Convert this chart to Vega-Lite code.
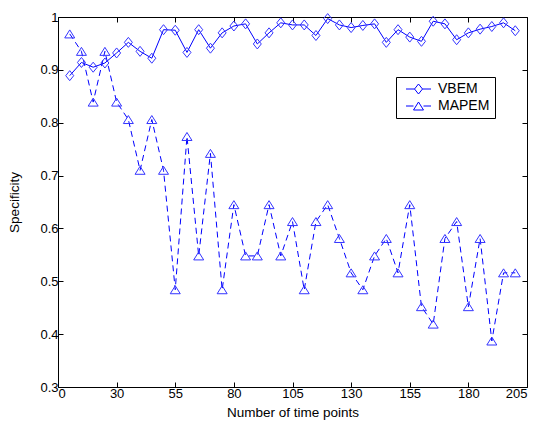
{
  "$schema": "https://vega.github.io/schema/vega-lite/v6.json",
  "autosize": "none",
  "width": 469,
  "height": 370,
  "padding": {"left": 58, "top": 17, "right": 12, "bottom": 37},
  "background": "white",
  "config": {
    "font": "Liberation Sans",
    "view": {"stroke": null},
    "axis": {
      "grid": false,
      "domainColor": "black",
      "domainWidth": 1,
      "tickColor": "black",
      "tickWidth": 1,
      "tickSize": -5,
      "labelColor": "black",
      "labelFont": "Liberation Sans",
      "labelFontSize": 13,
      "titleColor": "black",
      "titleFont": "Liberation Sans",
      "titleFontSize": 13.5,
      "titleFontWeight": "normal"
    }
  },
  "data": {
    "values": [
      {"x": 10, "series": "VBEM", "value": 0.889},
      {"x": 15, "series": "VBEM", "value": 0.914},
      {"x": 20, "series": "VBEM", "value": 0.905},
      {"x": 25, "series": "VBEM", "value": 0.913},
      {"x": 30, "series": "VBEM", "value": 0.932},
      {"x": 35, "series": "VBEM", "value": 0.952},
      {"x": 40, "series": "VBEM", "value": 0.935},
      {"x": 45, "series": "VBEM", "value": 0.922},
      {"x": 50, "series": "VBEM", "value": 0.976},
      {"x": 55, "series": "VBEM", "value": 0.975},
      {"x": 60, "series": "VBEM", "value": 0.933},
      {"x": 65, "series": "VBEM", "value": 0.976},
      {"x": 70, "series": "VBEM", "value": 0.941},
      {"x": 75, "series": "VBEM", "value": 0.970},
      {"x": 80, "series": "VBEM", "value": 0.983},
      {"x": 85, "series": "VBEM", "value": 0.987},
      {"x": 90, "series": "VBEM", "value": 0.949},
      {"x": 95, "series": "VBEM", "value": 0.970},
      {"x": 100, "series": "VBEM", "value": 0.989},
      {"x": 105, "series": "VBEM", "value": 0.985},
      {"x": 110, "series": "VBEM", "value": 0.985},
      {"x": 115, "series": "VBEM", "value": 0.965},
      {"x": 120, "series": "VBEM", "value": 0.997},
      {"x": 125, "series": "VBEM", "value": 0.985},
      {"x": 130, "series": "VBEM", "value": 0.980},
      {"x": 135, "series": "VBEM", "value": 0.984},
      {"x": 140, "series": "VBEM", "value": 0.987},
      {"x": 145, "series": "VBEM", "value": 0.952},
      {"x": 150, "series": "VBEM", "value": 0.976},
      {"x": 155, "series": "VBEM", "value": 0.962},
      {"x": 160, "series": "VBEM", "value": 0.954},
      {"x": 165, "series": "VBEM", "value": 0.992},
      {"x": 170, "series": "VBEM", "value": 0.987},
      {"x": 175, "series": "VBEM", "value": 0.957},
      {"x": 180, "series": "VBEM", "value": 0.970},
      {"x": 185, "series": "VBEM", "value": 0.977},
      {"x": 190, "series": "VBEM", "value": 0.982},
      {"x": 195, "series": "VBEM", "value": 0.989},
      {"x": 200, "series": "VBEM", "value": 0.974},
      {"x": 10, "series": "MAPEM", "value": 0.968},
      {"x": 15, "series": "MAPEM", "value": 0.935},
      {"x": 20, "series": "MAPEM", "value": 0.839},
      {"x": 25, "series": "MAPEM", "value": 0.935},
      {"x": 30, "series": "MAPEM", "value": 0.839},
      {"x": 35, "series": "MAPEM", "value": 0.806},
      {"x": 40, "series": "MAPEM", "value": 0.710},
      {"x": 45, "series": "MAPEM", "value": 0.806},
      {"x": 50, "series": "MAPEM", "value": 0.710},
      {"x": 55, "series": "MAPEM", "value": 0.484},
      {"x": 60, "series": "MAPEM", "value": 0.774},
      {"x": 65, "series": "MAPEM", "value": 0.548},
      {"x": 70, "series": "MAPEM", "value": 0.742},
      {"x": 75, "series": "MAPEM", "value": 0.484},
      {"x": 80, "series": "MAPEM", "value": 0.645},
      {"x": 85, "series": "MAPEM", "value": 0.548},
      {"x": 90, "series": "MAPEM", "value": 0.548},
      {"x": 95, "series": "MAPEM", "value": 0.645},
      {"x": 100, "series": "MAPEM", "value": 0.548},
      {"x": 105, "series": "MAPEM", "value": 0.613},
      {"x": 110, "series": "MAPEM", "value": 0.484},
      {"x": 115, "series": "MAPEM", "value": 0.613},
      {"x": 120, "series": "MAPEM", "value": 0.645},
      {"x": 125, "series": "MAPEM", "value": 0.581},
      {"x": 130, "series": "MAPEM", "value": 0.516},
      {"x": 135, "series": "MAPEM", "value": 0.484},
      {"x": 140, "series": "MAPEM", "value": 0.548},
      {"x": 145, "series": "MAPEM", "value": 0.581},
      {"x": 150, "series": "MAPEM", "value": 0.516},
      {"x": 155, "series": "MAPEM", "value": 0.645},
      {"x": 160, "series": "MAPEM", "value": 0.452},
      {"x": 165, "series": "MAPEM", "value": 0.419},
      {"x": 170, "series": "MAPEM", "value": 0.581},
      {"x": 175, "series": "MAPEM", "value": 0.613},
      {"x": 180, "series": "MAPEM", "value": 0.452},
      {"x": 185, "series": "MAPEM", "value": 0.581},
      {"x": 190, "series": "MAPEM", "value": 0.387},
      {"x": 195, "series": "MAPEM", "value": 0.516},
      {"x": 200, "series": "MAPEM", "value": 0.516}
    ]
  },
  "layer": [
    {
      "transform": [{"filter": "datum.series === 'VBEM'"}],
      "mark": {"type": "line", "strokeWidth": 1, "color": "#0000ff", "clip": true},
      "encoding": {
        "x": {
          "field": "x",
          "type": "quantitative",
          "scale": {"domain": [5, 205], "nice": false, "zero": false},
          "axis": {
            "orient": "bottom",
            "title": "Number of time points",
            "values": [5, 30, 55, 80, 105, 130, 155, 180, 205],
            "labelExpr": "datum.value == 5 ? '0' : datum.label",
            "labelPadding": 5,
            "titlePadding": 5
          }
        },
        "y": {
          "field": "value",
          "type": "quantitative",
          "scale": {"domain": [0.3, 1], "nice": false, "zero": false},
          "axis": {
            "orient": "left",
            "title": "Specificity",
            "values": [0.3, 0.4, 0.5, 0.6, 0.7, 0.8, 0.9, 1],
            "format": ".1~f",
            "labelPadding": 5,
            "titlePadding": 18
          }
        }
      }
    },
    {
      "transform": [{"filter": "datum.series === 'MAPEM'"}],
      "mark": {"type": "line", "strokeWidth": 1, "color": "#0000ff", "strokeDash": [6, 4], "clip": true},
      "encoding": {
        "x": {"field": "x", "type": "quantitative", "axis": null},
        "y": {"field": "value", "type": "quantitative", "axis": null}
      }
    },
    {
      "mark": {"type": "point", "filled": false, "size": 64, "strokeWidth": 1, "color": "#3333ff", "opacity": 1},
      "encoding": {
        "x": {
          "field": "x",
          "type": "quantitative",
          "axis": {
            "orient": "top",
            "title": null,
            "labels": false,
            "values": [5, 30, 55, 80, 105, 130, 155, 180, 205]
          }
        },
        "y": {
          "field": "value",
          "type": "quantitative",
          "axis": {
            "orient": "right",
            "title": null,
            "labels": false,
            "values": [0.3, 0.4, 0.5, 0.6, 0.7, 0.8, 0.9, 1]
          }
        },
        "shape": {
          "field": "series",
          "type": "nominal",
          "scale": {
            "domain": ["VBEM", "MAPEM"],
            "range": ["M0,-1.25L1,0L0,1.25L-1,0Z", "M0,-1L1.25,1H-1.25Z"]
          },
          "legend": null
        }
      }
    },
    {
      "mark": {"type": "point", "filled": false, "size": 64, "strokeWidth": 1, "color": "#0000ff", "opacity": 0},
      "encoding": {
        "x": {"field": "x", "type": "quantitative", "axis": null},
        "y": {"field": "value", "type": "quantitative", "axis": null},
        "shape": {
          "field": "series",
          "type": "nominal",
          "scale": {
            "domain": ["VBEM", "MAPEM"],
            "range": [
              "M-0.5,0L1.625,0M3.625,0L5.75,0M2.625,-1.25L3.625,0L2.625,1.25L1.625,0Z",
              "M-0.5,0L1.375,0M3.875,0L5.75,0M2.625,-1L3.875,1L1.375,1Z"
            ]
          },
          "legend": {
            "title": null,
            "orient": "none",
            "legendX": 338,
            "legendY": 60,
            "fillColor": "white",
            "strokeColor": "black",
            "padding": 5,
            "cornerRadius": 0,
            "rowPadding": 3,
            "symbolSize": 64,
            "symbolOpacity": 1,
            "symbolStrokeWidth": 1,
            "symbolStrokeColor": "#0000ff",
            "symbolFillColor": "transparent",
            "labelOffset": 23,
            "labelExpr": "datum.label + '  '",
            "labelFont": "Liberation Sans",
            "labelFontSize": 14,
            "labelColor": "black"
          }
        }
      }
    }
  ],
  "resolve": {
    "axis": {"x": "independent", "y": "independent"},
    "scale": {"shape": "independent"}
  }
}
